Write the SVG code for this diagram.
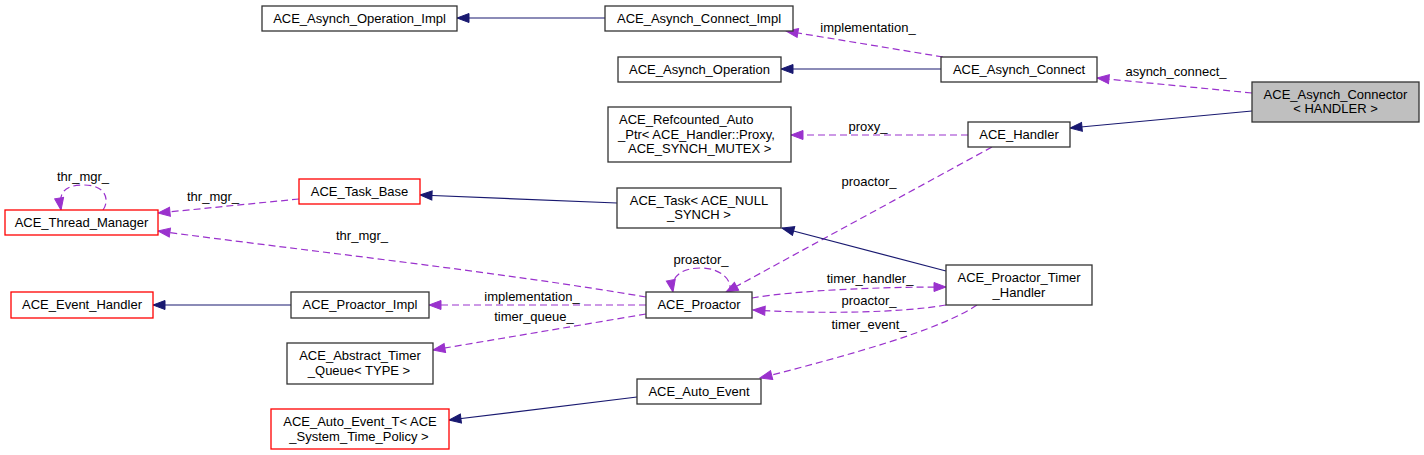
<svg xmlns="http://www.w3.org/2000/svg" width="1424" height="455" viewBox="0 0 1424 455">
<style>
  .n rect { fill: #ffffff; stroke: #333333; stroke-width: 1.3; }
  .n.red rect { stroke: #ff0000; }
  .n.cur rect { fill: #bfbfbf; }
  text { font-family: "Liberation Sans", Arial, Helvetica, sans-serif; font-size: 13px; fill: #000000; }
  .n text { text-anchor: middle; }
  .lbl { text-anchor: middle; }
  .inh { fill: none; stroke: #191970; stroke-width: 1.2; marker-end: url(#aN); }
  .use { fill: none; stroke: #9a32cd; stroke-width: 1.2; stroke-dasharray: 7,4; marker-end: url(#aP); }
</style>
<defs>
  <marker id="aN" markerUnits="userSpaceOnUse" markerWidth="14" markerHeight="11" refX="13" refY="5.5" orient="auto">
    <path d="M1,1 L13,5.5 L1,10 z" fill="#191970" stroke="#191970" stroke-width="1"/>
  </marker>
  <marker id="aP" markerUnits="userSpaceOnUse" markerWidth="14" markerHeight="11" refX="13" refY="5.5" orient="auto">
    <path d="M1,1 L13,5.5 L1,10 z" fill="#9a32cd" stroke="#9a32cd" stroke-width="1"/>
  </marker>
</defs>
<rect x="0" y="0" width="1424" height="455" fill="#ffffff"/>

<g id="edges">
  <path class="inh" d="M605,18 L457,18"/>
  <path class="use" d="M943,57 L786,31"/>
  <path class="inh" d="M941,69 L781,69"/>
  <path class="use" d="M1252,93 L1097,78"/>
  <path class="inh" d="M1252,111 L1070,128"/>
  <path class="use" d="M968,135 L791,135"/>
  <path class="use" d="M992,147 L726,292"/>
  <path class="inh" d="M617,203 L420,195"/>
  <path class="use" d="M299,199 L158,213"/>
  <path class="use" d="M103,210 C110,200 106,185 84,185 C66,185 58,191 61,210"/>
  <path class="use" d="M646,297 C500,272 300,250 158,231"/>
  <path class="inh" d="M946,271 L782,228"/>
  <path class="use" d="M729,292 C734,282 722,268 701,268 C682,268 670,276 673,292"/>
  <path class="use" d="M646,305 L429,305"/>
  <path class="use" d="M646,314 L433,350"/>
  <path class="use" d="M752,298 C800,290 880,287 946,287"/>
  <path class="use" d="M946,305 C900,313 820,314 753,310"/>
  <path class="use" d="M977,305 C940,330 850,355 760,378"/>
  <path class="inh" d="M291,305 L153,305"/>
  <path class="inh" d="M637,397 L449,420"/>
  <text class="lbl" x="868" y="32">implementation_</text>
  <text class="lbl" x="1176" y="76">asynch_connect_</text>
  <text class="lbl" x="868" y="131">proxy_</text>
  <text class="lbl" x="869" y="186">proactor_</text>
  <text class="lbl" x="83" y="181">thr_mgr_</text>
  <text class="lbl" x="213" y="201">thr_mgr_</text>
  <text class="lbl" x="362" y="240">thr_mgr_</text>
  <text class="lbl" x="701" y="264">proactor_</text>
  <text class="lbl" x="870" y="283">timer_handler_</text>
  <text class="lbl" x="869" y="305">proactor_</text>
  <text class="lbl" x="869" y="329">timer_event_</text>
  <text class="lbl" x="532" y="301">implementation_</text>
  <text class="lbl" x="534" y="321">timer_queue_</text>
</g>

<g id="n_connector" class="n cur">
  <rect x="1252" y="82" width="167" height="40"/>
  <text x="1335.5" y="99">ACE_Asynch_Connector</text>
  <text x="1335.5" y="113">&lt; HANDLER &gt;</text>
</g>
<g id="n_op_impl" class="n">
  <rect x="262" y="6" width="195" height="25"/>
  <text x="359.5" y="22.5">ACE_Asynch_Operation_Impl</text>
</g>
<g id="n_connect_impl" class="n">
  <rect x="605" y="6" width="188" height="25"/>
  <text x="699" y="22.5">ACE_Asynch_Connect_Impl</text>
</g>
<g id="n_operation" class="n">
  <rect x="618" y="57" width="163" height="25"/>
  <text x="699.5" y="73.5">ACE_Asynch_Operation</text>
</g>
<g id="n_connect" class="n">
  <rect x="941" y="57" width="156" height="25"/>
  <text x="1019" y="73.5">ACE_Asynch_Connect</text>
</g>
<g id="n_handler" class="n">
  <rect x="968" y="122" width="102" height="25"/>
  <text x="1019" y="138.5">ACE_Handler</text>
</g>
<g id="n_refcounted" class="n">
  <rect x="608" y="107" width="183" height="55"/>
  <text x="619" y="124" style="text-anchor:start">ACE_Refcounted_Auto</text>
  <text x="618" y="138.5" style="text-anchor:start">_Ptr&lt; ACE_Handler::Proxy,</text>
  <text x="628" y="153" style="text-anchor:start">ACE_SYNCH_MUTEX &gt;</text>
</g>
<g id="n_task" class="n">
  <rect x="617" y="188" width="164" height="40"/>
  <text x="699" y="204.5">ACE_Task&lt; ACE_NULL</text>
  <text x="699" y="219">_SYNCH &gt;</text>
</g>
<g id="n_task_base" class="n red">
  <rect x="299" y="179" width="121" height="25"/>
  <text x="359.5" y="195.5">ACE_Task_Base</text>
</g>
<g id="n_thread_manager" class="n red">
  <rect x="5" y="210" width="153" height="25"/>
  <text x="81.5" y="226.5">ACE_Thread_Manager</text>
</g>
<g id="n_event_handler" class="n red">
  <rect x="11" y="292" width="142" height="26"/>
  <text x="82" y="309">ACE_Event_Handler</text>
</g>
<g id="n_proactor_impl" class="n">
  <rect x="291" y="292" width="138" height="26"/>
  <text x="360" y="309">ACE_Proactor_Impl</text>
</g>
<g id="n_timer_queue" class="n">
  <rect x="287" y="343" width="146" height="41"/>
  <text x="360" y="360">ACE_Abstract_Timer</text>
  <text x="359" y="374.5">_Queue&lt; TYPE &gt;</text>
</g>
<g id="n_auto_event_t" class="n red">
  <rect x="271" y="409" width="178" height="40"/>
  <text x="360" y="426">ACE_Auto_Event_T&lt; ACE</text>
  <text x="359" y="440.5">_System_Time_Policy &gt;</text>
</g>
<g id="n_proactor" class="n">
  <rect x="646" y="292" width="106" height="26"/>
  <text x="699" y="309">ACE_Proactor</text>
</g>
<g id="n_timer_handler" class="n">
  <rect x="946" y="265" width="146" height="40"/>
  <text x="1019" y="282">ACE_Proactor_Timer</text>
  <text x="1019" y="296.5">_Handler</text>
</g>
<g id="n_auto_event" class="n">
  <rect x="637" y="379" width="124" height="25"/>
  <text x="699" y="395.5">ACE_Auto_Event</text>
</g>
</svg>
